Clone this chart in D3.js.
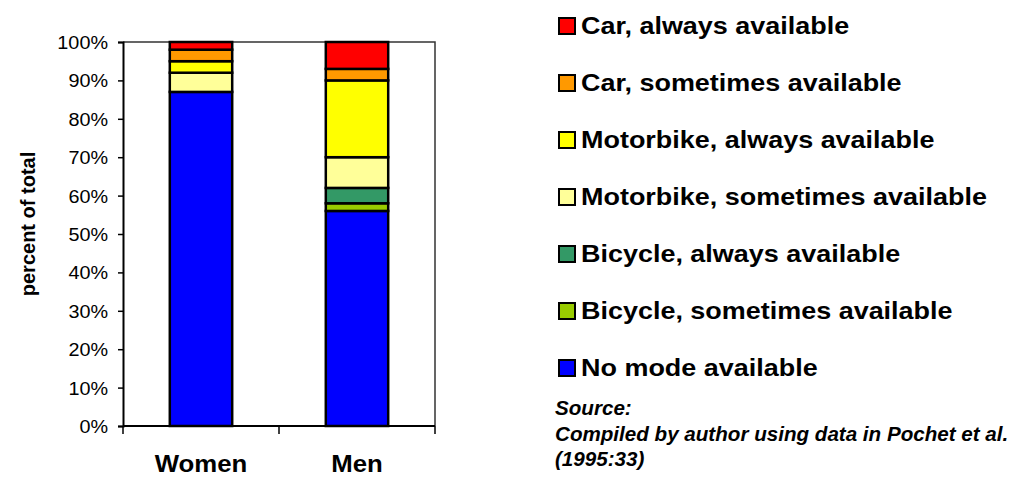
<!DOCTYPE html>
<html>
<head>
<meta charset="utf-8">
<script src="https://cdn.jsdelivr.net/npm/d3@7"></script>
<style>
  body { margin: 0; background: #fff; }
  svg { display: block; font-family: Arial, "Liberation Sans", sans-serif; }
</style>
</head>
<body>
<script>
// categories and stacked series (percent of total), bottom to top
var categories = ["Women", "Men"];
var seriesNames = [
    "No mode available",
    "Bicycle, sometimes available",
    "Bicycle, always available",
    "Motorbike, sometimes available",
    "Motorbike, always available",
    "Car, sometimes available",
    "Car, always available"
];
var womenValues = [87, 0, 0, 5, 3, 3, 2];
var menValues = [56, 2, 4, 8, 20, 3, 7];
var seriesColors = ["#0000FF", "#99CC00", "#339966", "#FFFF99", "#FFFF00", "#FF9900", "#FF0000"];
var yTickValues = [0, 10, 20, 30, 40, 50, 60, 70, 80, 90, 100];
var sourceLines = ["Source:", "Compiled by author using data in Pochet et al.", "(1995:33)"];

var W = 1018, H = 477;
var plot = {left: 123, right: 435, top: 42, bottom: 426};

var svg = d3.select("body").append("svg")
    .attr("width", W)
    .attr("height", H);

//build rows for d3.stack
var rows = categories.map(function(c, i) {
    var vals = i == 0 ? womenValues : menValues;
    var row = {cat: c};
    seriesNames.forEach(function(s, j) { row[s] = vals[j]; });
    return row;
});
var stacked = d3.stack().keys(seriesNames)(rows);

var x = d3.scaleBand().domain(categories)
    .range([plot.left, plot.right])
    .paddingInner(0.6).paddingOuter(0.3);
var y = d3.scaleLinear().domain([0, 100]).range([plot.bottom, plot.top]);

// widen text horizontally, the reference is a bit stretched
function stretch(sel, k) {
    sel.each(function() {
        var len = this.getComputedTextLength();
        d3.select(this).attr("textLength", len * k).attr("lengthAdjust", "spacingAndGlyphs");
    });
}

//plot frame (top + right)
svg.append("path")
    .attr("d", "M" + plot.left + "," + plot.top + "H" + plot.right + "V" + plot.bottom)
    .attr("fill", "none")
    .attr("stroke", "#333")
    .attr("stroke-width", 1.5);

//bars
svg.append("g").selectAll("g")
    .data(stacked)
    .enter().append("g")
    .attr("fill", function(d, i) { return seriesColors[i]; })
    .selectAll("rect")
    .data(function(d) { return d.filter(function(p) { return p[1] - p[0] > 0; }); })
    .enter().append("rect")
    .attr("x", function(d) { return x(d.data.cat); })
    .attr("width", x.bandwidth())
    .attr("y", function(d) { return y(d[1]); })
    .attr("height", function(d) { return y(d[0]) - y(d[1]); })
    .attr("stroke", "#000")
    .attr("stroke-width", 2.5);

//y axis
var yAxis = svg.append("g")
    .attr("transform", "translate(" + plot.left + ",0)")
    .call(d3.axisLeft(y).tickValues(yTickValues).tickSize(5).tickPadding(10)
        .tickFormat(function(d) { return d + "%"; }));
yAxis.select(".domain").attr("stroke", "#000").attr("stroke-width", 2);
yAxis.selectAll(".tick line").attr("stroke", "#000").attr("stroke-width", 1.5);
yAxis.selectAll("text")
    .attr("font-size", 18)
    .attr("font-family", "Arial, 'Liberation Sans', sans-serif")
    .attr("fill", "#000")
    .attr("dy", "0.36em")
    .call(stretch, 1.1);

//x axis: ticks at the category boundaries
var xBounds = [plot.left, (plot.left + plot.right) / 2, plot.right];
svg.append("line")
    .attr("x1", plot.left).attr("x2", plot.right)
    .attr("y1", plot.bottom).attr("y2", plot.bottom)
    .attr("stroke", "#000").attr("stroke-width", 2);
svg.selectAll(".xtick")
    .data(xBounds)
    .enter().append("line")
    .attr("class", "xtick")
    .attr("x1", function(d) { return d; }).attr("x2", function(d) { return d; })
    .attr("y1", plot.bottom).attr("y2", plot.bottom + 8)
    .attr("stroke", "#000").attr("stroke-width", 1.5);

svg.selectAll(".xlabel")
    .data(categories)
    .enter().append("text")
    .attr("class", "xlabel")
    .attr("x", function(d) { return x(d) + x.bandwidth() / 2; })
    .attr("y", 472)
    .attr("text-anchor", "middle")
    .attr("font-size", 23)
    .attr("font-weight", "bold")
    .text(function(d) { return d; })
    .call(stretch, 1.12);

//y axis title
svg.append("text")
    .attr("transform", "translate(35,224) rotate(-90)")
    .attr("text-anchor", "middle")
    .attr("font-size", 20)
    .attr("font-weight", "bold")
    .text("percent of total");

//legend, top entry = top of stack
var legendItems = seriesNames.map(function(s, i) { return {name: s, color: seriesColors[i]}; }).reverse();
var legend = svg.append("g").selectAll("g")
    .data(legendItems)
    .enter().append("g")
    .attr("transform", function(d, i) { return "translate(558," + (17 + i * 57) + ")"; });
legend.append("rect")
    .attr("x", 1).attr("y", 1)
    .attr("width", 16).attr("height", 16)
    .attr("fill", function(d) { return d.color; })
    .attr("stroke", "#000")
    .attr("stroke-width", 2);
legend.append("text")
    .attr("x", 23)
    .attr("y", 17)
    .attr("font-size", 24.5)
    .attr("font-weight", "bold")
    .text(function(d) { return d.name; })
    .call(stretch, 1.1);

//source note
svg.append("g").selectAll("text")
    .data(sourceLines)
    .enter().append("text")
    .attr("x", 555)
    .attr("y", function(d, i) { return 415 + i * 25.5; })
    .attr("font-size", 20)
    .attr("font-weight", "bold")
    .attr("font-style", "italic")
    .text(function(d) { return d; })
    .call(stretch, 1.03);
</script>
</body>
</html>
